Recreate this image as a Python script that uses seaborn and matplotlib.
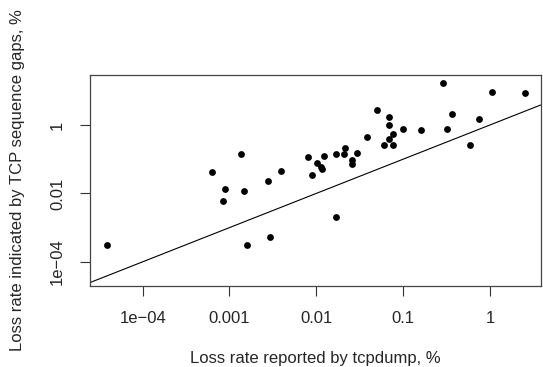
import seaborn as sns
import matplotlib.pyplot as plt
import pandas as pd

# loss rates, %
tcpdump_loss = [3.85e-05, 6.24e-04, 1.36e-03, 8.87e-04, 8.49e-04, 1.47e-03, 2.80e-03,
                3.92e-03, 7.96e-03, 1.58e-03, 2.90e-03, 8.91e-03, 0.0101, 0.0113,
                0.0115, 0.0124, 0.0167, 0.0212, 0.0210, 0.0256, 0.0258, 0.0292,
                0.0170, 0.0387, 0.0500, 0.0693, 0.0687, 0.0759, 0.0687, 0.0597,
                0.0766, 0.100, 0.160, 0.290, 0.363, 0.321, 0.594, 0.755, 1.05, 2.54]
seqgap_loss = [3.03e-04, 0.0432, 0.142, 0.0132, 6.12e-03, 0.0120, 0.0235,
               0.0452, 0.116, 3.03e-04, 5.31e-04, 0.0338, 0.0774, 0.0592,
               0.0516, 0.124, 0.139, 0.212, 0.142, 0.0968, 0.0738, 0.155,
               2.04e-03, 0.446, 2.75, 1.75, 1.0, 0.557, 0.398, 0.255,
               0.266, 0.764, 0.731, 17.3, 2.05, 0.764, 0.266, 1.53, 9.23, 8.81]

x_ticks = [1e-4, 1e-3, 1e-2, 1e-1, 1]
x_ticklabels = ["1e\u221204", "0.001", "0.01", "0.1", "1"]
y_ticks = [1e-4, 1e-2, 1]
y_ticklabels = ["1e\u221204", "0.01", "1"]

df = pd.DataFrame({"tcpdump": tcpdump_loss, "seqgap": seqgap_loss})

sns.set_style("ticks")
plt.rcParams['font.family'] = ['Liberation Sans', 'DejaVu Sans']

fig = plt.figure(figsize=(5.43, 3.67), dpi=100)
ax = fig.add_axes([0.1657, 0.2207, 0.8301, 0.5758])

sns.scatterplot(data=df, x="tcpdump", y="seqgap", ax=ax, color="black",
                s=24, linewidth=0, legend=False)
ax.set_xscale("log")
ax.set_yscale("log")
ax.set_xlim(2.47e-5, 3.85)
ax.set_ylim(1.96e-5, 29.6)

# y = x reference line
ax.axline((1e-3, 1e-3), (1, 1), color="black", lw=0.8)

ax.minorticks_off()
ax.set_xticks(x_ticks)
ax.set_xticklabels(x_ticklabels)
ax.set_yticks(y_ticks)
ax.set_yticklabels(y_ticklabels, rotation=90, va="center")
ax.tick_params(axis="both", length=7, width=0.8, color="#333333",
               labelsize=12, pad=11)

for sp in ax.spines.values():
    sp.set_color("#444444")
    sp.set_linewidth(0.9)

ax.set_xlabel("Loss rate reported by tcpdump, %", fontsize=12, labelpad=18)
ax.set_ylabel("Loss rate indicated by TCP sequence gaps, %", fontsize=12,
              labelpad=18)

plt.savefig("out.png", dpi=100)
